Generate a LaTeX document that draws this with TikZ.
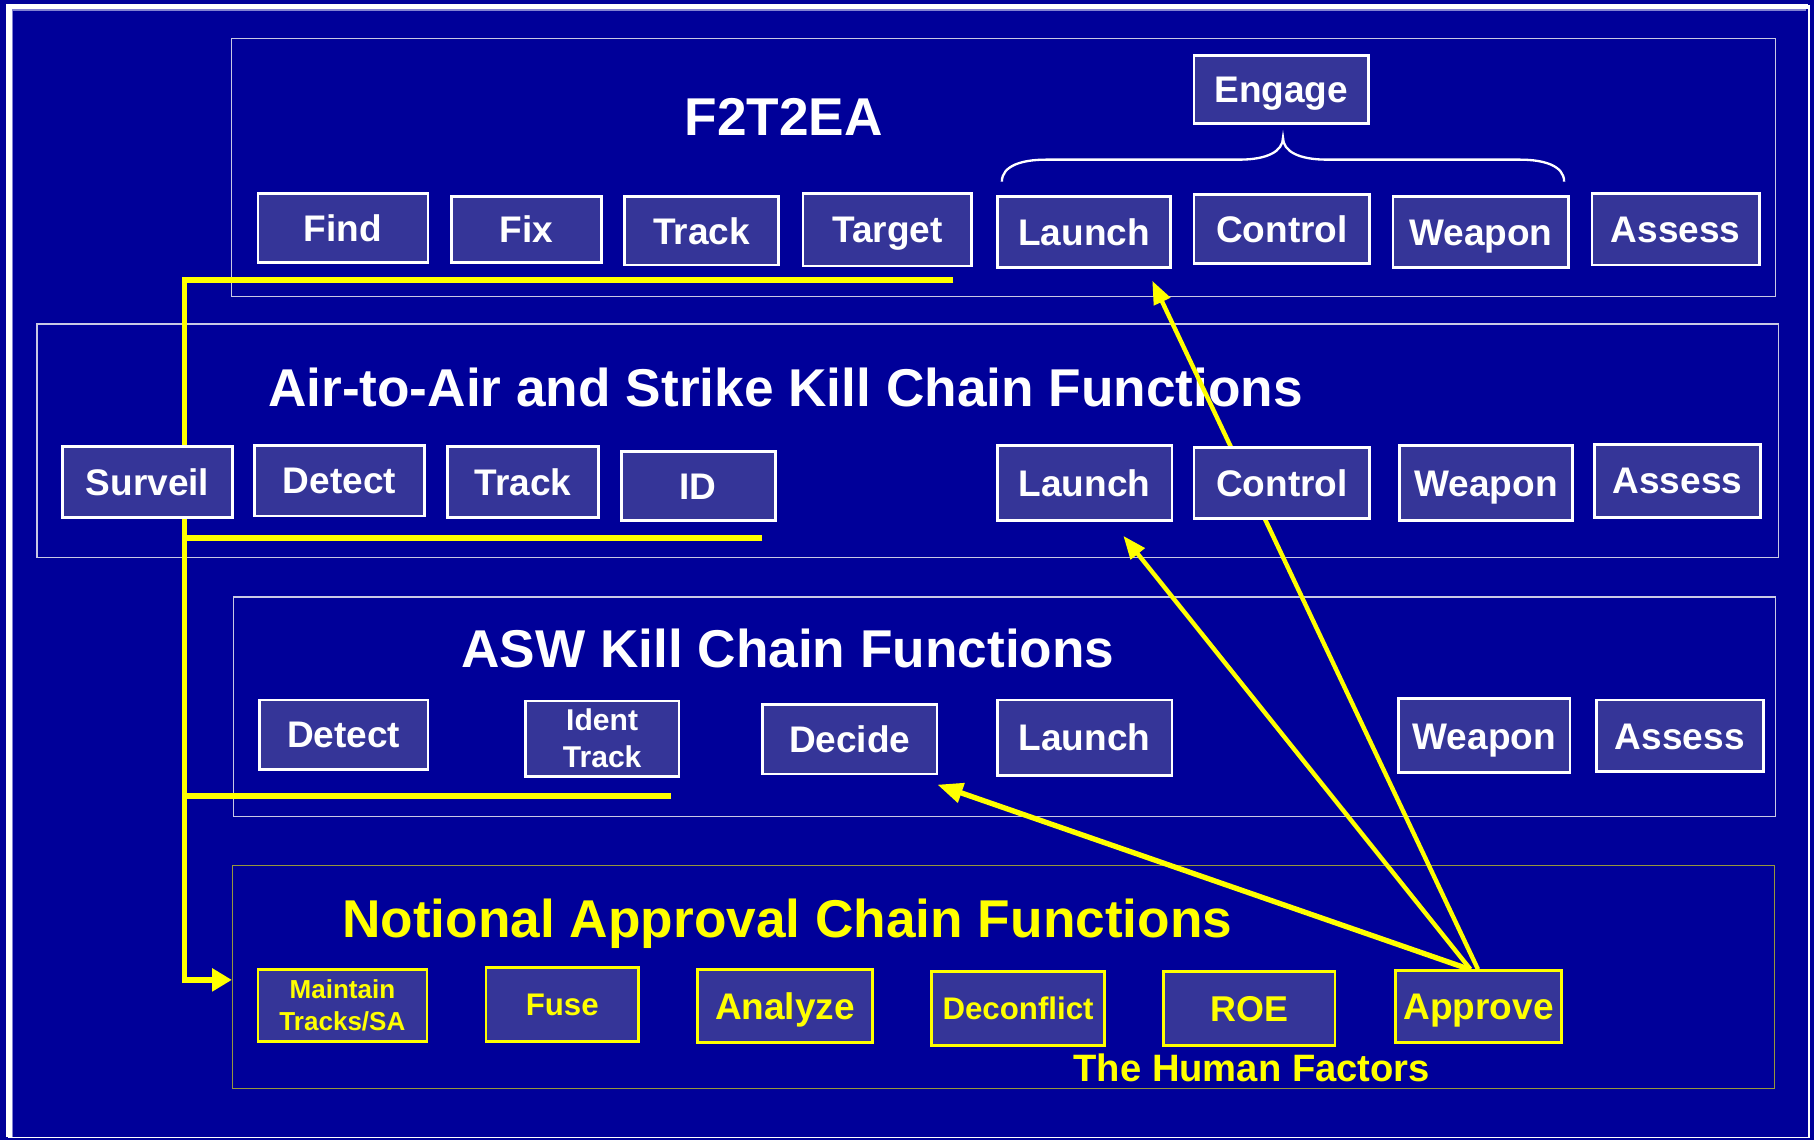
\documentclass[tikz,border=0pt]{standalone}
\usepackage{fontspec}
\setmainfont{Liberation Sans}
\usetikzlibrary{arrows.meta}
\definecolor{bgblue}{RGB}{0,0,153}
\definecolor{boxblue}{RGB}{53,53,152}
\definecolor{panelline}{RGB}{200,200,228}
\definecolor{oliveline}{RGB}{150,150,60}
\definecolor{frameinner}{RGB}{130,130,210}
\definecolor{hl}{RGB}{255,255,0}
\pgfdeclarelayer{back}
\pgfdeclarelayer{links}
\pgfsetlayers{back,links,main}
\tikzset{
  panel/.style={draw=panelline, line width=1.1pt, inner sep=0pt},
  sz/.style 2 args={minimum width=#1pt, minimum height=#2pt},
  fbox/.style={draw=white, line width=2.4pt, fill=boxblue, text=white, inner sep=0pt,
    font=\fontsize{32}{38}\selectfont\bfseries, text height=23pt, text depth=0pt},
  ybox/.style={fbox, draw=hl, text=hl},
  title/.style={text=white, font=\fontsize{46}{55}\selectfont\bfseries, anchor=base, inner sep=0pt},
  link/.style={draw=hl, line width=4.8pt},
  toapp/.style={draw=hl, line width=3.8pt, -{Triangle[length=20pt,width=15pt]}},
}
\begin{document}
\begin{tikzpicture}[x=1pt, y=-1pt]
\useasboundingbox (0,0) rectangle (1568,985);
\begin{pgfonlayer}{back}
  % slide background and frame
  \fill[bgblue] (0,0) rectangle (1568,985);
  \draw[white, line width=1.6pt] (7.5,5.5) rectangle (1563.5,983.2);
  \draw[white, line width=4.4pt] (7.8,983) -- (7.8,5.6) -- (1563,5.6);
  \draw[frameinner, line width=1pt] (10.8,983) -- (10.8,8.6) -- (1561,8.6);
  % panels
  \node[panel, sz={1335}{223}] (p1) at (867.5,144.5) {};
  \node[panel, sz={1505}{202}] (p2) at (784.5,381) {};
  \node[panel, sz={1333}{190}] (p3) at (868.5,611) {};
  \node[panel, draw=oliveline, sz={1333}{193}] (p4) at (867.5,844.5) {};
  % headings
  \node[title] (t1) at (677.5,117) {F2T2EA};
  \node[title] (t2) at (679,351) {Air-to-Air and Strike Kill Chain Functions};
  \node[title] (t3) at (681,577) {ASW Kill Chain Functions};
  \node[title, text=hl] (t4) at (680.5,810) {Notional Approval Chain Functions};
  \node[title, text=hl, font=\fontsize{33}{40}\selectfont\bfseries] (t5) at (1082,935) {The Human Factors};
\end{pgfonlayer}

% F2T2EA row
\node[fbox, sz={147}{60}] (find) at (296.5,197) {Find};
\node[fbox, sz={130}{57}] (fix) at (455,198.5) {Fix};
\node[fbox, sz={133}{59}] (trk1) at (606.5,199.5) {Track};
\node[fbox, sz={146}{63}] (tgt) at (767,198.5) {Target};
\node[fbox, sz={150}{61}] (lau1) at (937,200.5) {Launch};
\node[fbox, sz={152}{60}] (ctl1) at (1108,198) {Control};
\node[fbox, sz={152}{61}] (wpn1) at (1280,200.5) {Weapon};
\node[fbox, sz={145}{62}] (ass1) at (1448.5,198) {Assess};
\node[fbox, sz={151}{59}] (eng) at (1107.5,77.5) {Engage};

% Air-to-Air and Strike row
\node[fbox, sz={147}{61}] (srv) at (127.5,416.5) {Surveil};
\node[fbox, sz={147}{61}] (det2) at (293.5,415.5) {Detect};
\node[fbox, sz={130}{61}] (trk2) at (452,416.5) {Track};
\node[fbox, sz={133}{60}] (id) at (603.5,420) {ID};
\node[fbox, sz={151}{65}] (lau2) at (937.5,417.5) {Launch};
\node[fbox, sz={152}{61}] (ctl2) at (1108,417.5) {Control};
\node[fbox, sz={149}{65}] (wpn2) at (1284.5,417.5) {Weapon};
\node[fbox, sz={144}{63}] (ass2) at (1450,415.5) {Assess};

% ASW row
\node[fbox, sz={146}{60}] (det3) at (297,635) {Detect};
\node[fbox, sz={133}{65}, text height={}, text depth={}, align=center,
      font=\fontsize{26}{32}\selectfont\bfseries] (idt) at (520.5,638.5) {Ident\\Track};
\node[fbox, sz={151}{60}] (dec) at (734.5,639) {Decide};
\node[fbox, sz={151}{65}] (lau3) at (937.5,637.5) {Launch};
\node[fbox, sz={148}{64}] (wpn3) at (1283,636) {Weapon};
\node[fbox, sz={144}{62}] (ass3) at (1452,636) {Assess};

% approval chain row
\node[ybox, sz={146}{62}, text height={}, text depth={}, align=center,
      font=\fontsize{22.5}{28}\selectfont\bfseries] (mnt) at (296,869) {Maintain\\Tracks/SA};
\node[ybox, sz={132}{64}, font=\fontsize{27}{32}\selectfont\bfseries, text height=19.3pt] (fuse) at (486,868) {Fuse};
\node[ybox, sz={151}{63}] (anl) at (678.5,869.5) {Analyze};
\node[ybox, sz={150}{64}, font=\fontsize{27}{32}\selectfont\bfseries, text height=19.3pt] (dcf) at (880,872) {Deconflict};
\node[ybox, sz={148}{64}, font=\fontsize{31}{37}\selectfont\bfseries, text height=22.2pt] (roe) at (1080,872) {ROE};
\node[ybox, sz={144}{62}] (apv) at (1278,870) {Approve};

% engage brace over Launch .. Weapon
\draw[white, line width=2pt]
  (866,157) .. controls (866,143) and (884,138) .. (904,138) -- (1071,138)
  .. controls (1095,138) and (1109,131) .. (1109,119)
  .. controls (1109,131) and (1123,138) .. (1147,138) -- (1314,138)
  .. controls (1334,138) and (1352,143) .. (1352,157);

\begin{pgfonlayer}{links}
  % feedback trunk into the approval chain
  \coordinate (fb1) at (824,242);
  \coordinate (fb2) at (659,465);
  \coordinate (fb3) at (580,688);
  \coordinate (trunk) at (159.5,242);
  \coordinate (turn) at (159.5,847);
  \draw[link, -{Triangle[length=17pt,width=19pt]}] (fb1) -- (trunk) -- (turn) -- (turn -| p4.west);
  \draw[link] (fb2) -- (fb2 -| trunk);
  \draw[link] (fb3) -- (fb3 -| trunk);
  % approvals feeding the kill chains
  \draw[toapp] ([xshift=-0.5pt]apv.north) -- ([xshift=59pt,yshift=-10.5pt]lau1.south);
  \draw[toapp] ([xshift=-7pt]apv.north) -- ([xshift=33.5pt,yshift=-12pt]lau2.south);
  \draw[toapp, line width=4.6pt, -{Triangle[length=22pt,width=17pt]}] ([xshift=-8pt]apv.north) -- ([xshift=-1pt,yshift=-8pt]dec.south east);
\end{pgfonlayer}
\end{tikzpicture}
\end{document}
